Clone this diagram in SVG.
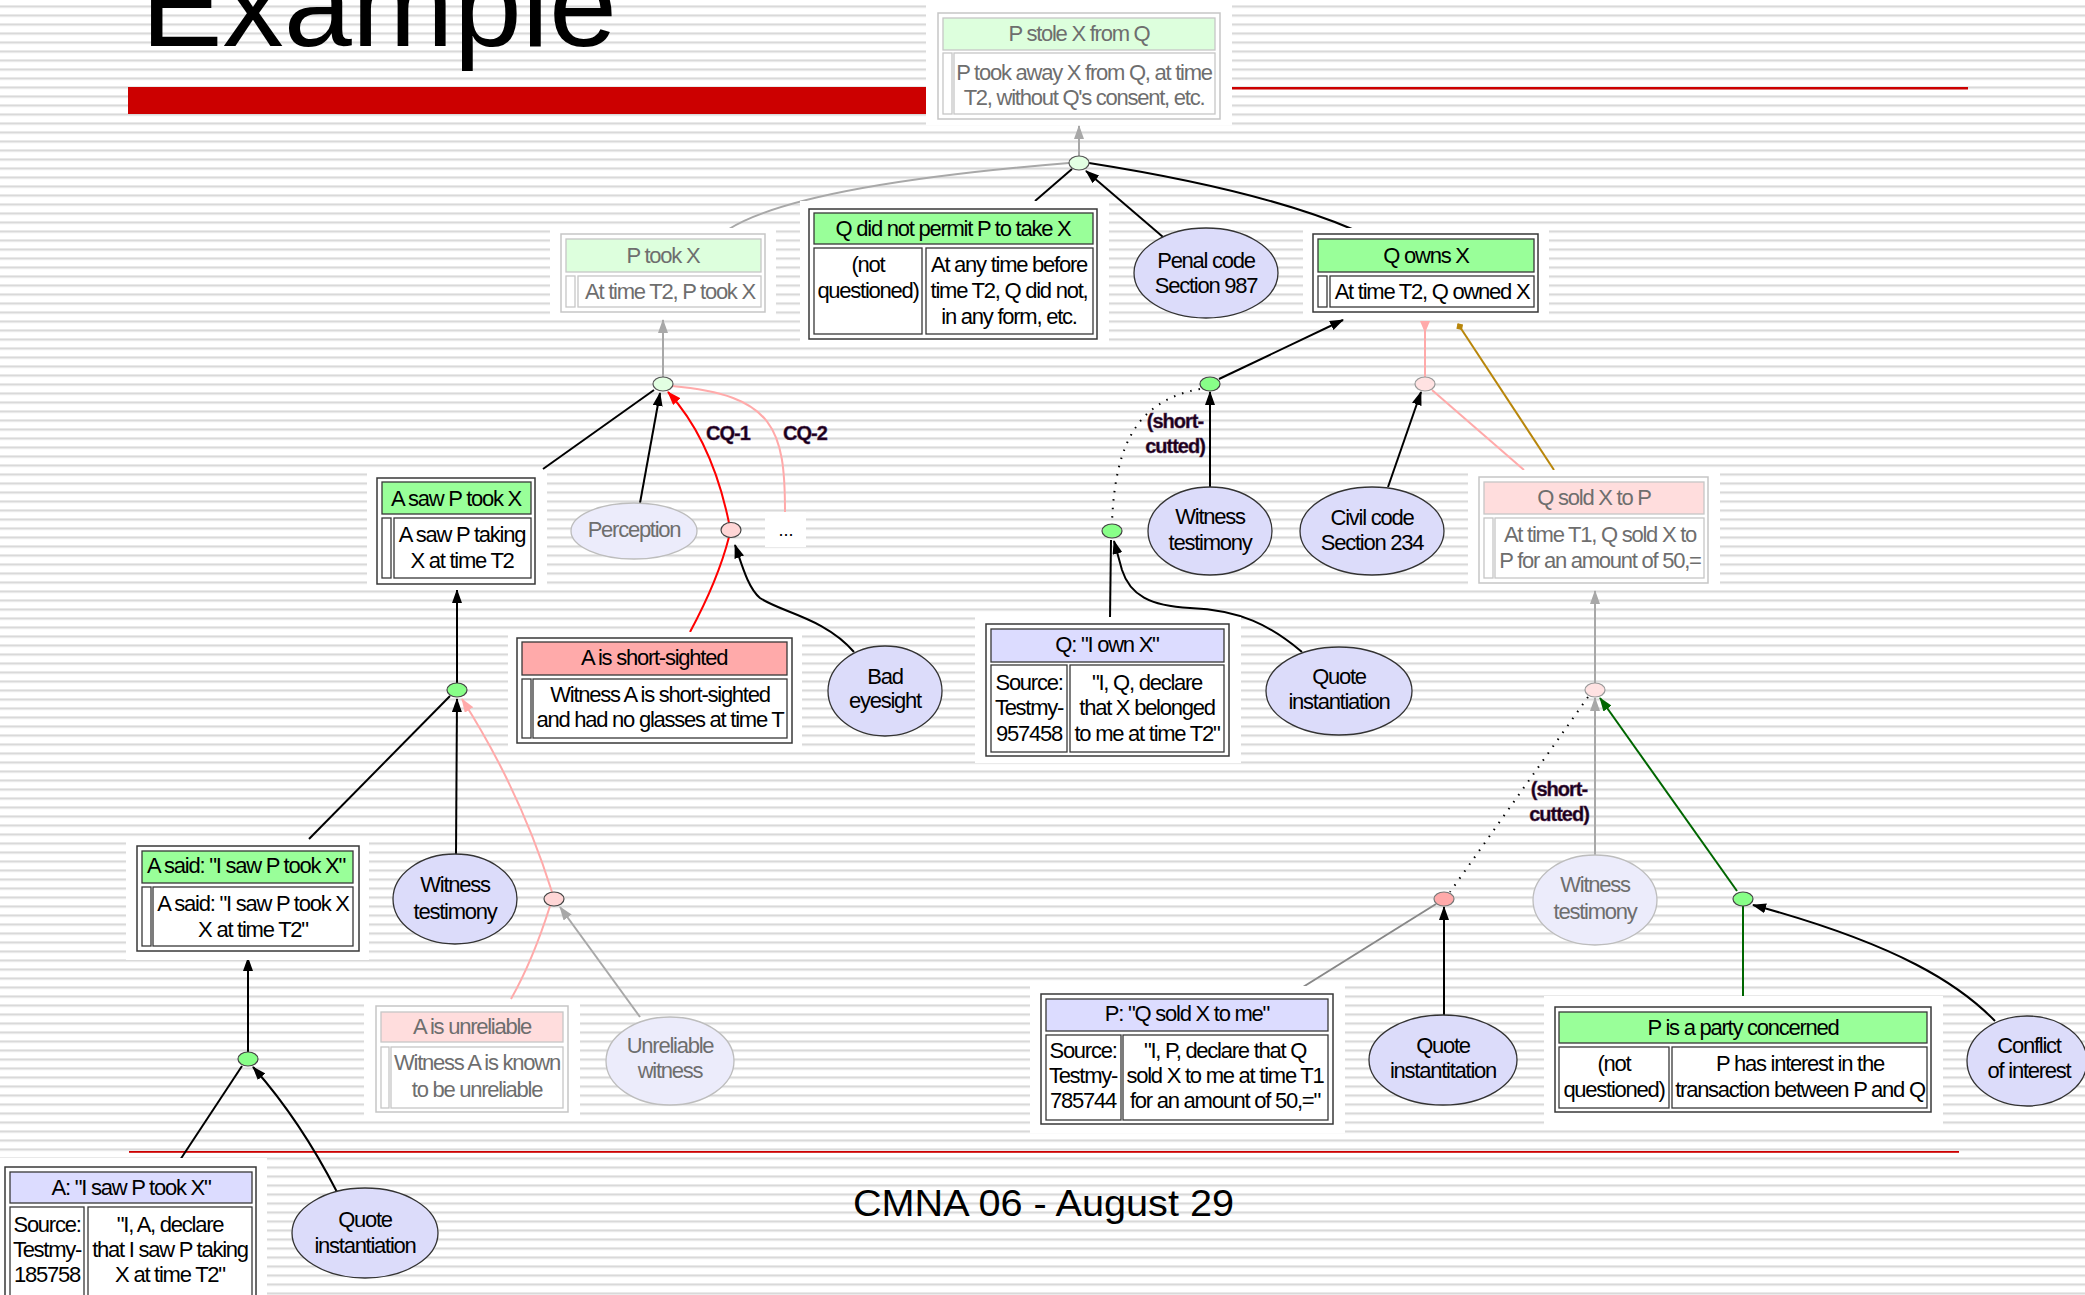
<svg xmlns="http://www.w3.org/2000/svg" width="2085" height="1295" viewBox="0 0 2085 1295">
<defs>
<pattern id="stripes" width="20" height="9" patternUnits="userSpaceOnUse" y="5">
<rect x="0" y="0" width="20" height="1" fill="#e9e9e9"/>
<rect x="0" y="1" width="20" height="1.2" fill="#d9d9d9"/>
<rect x="0" y="2.2" width="20" height="1" fill="#e7e7e7"/>
</pattern>
<marker id="ak" viewBox="0 0 14 10" refX="13" refY="5" markerWidth="14" markerHeight="10" markerUnits="userSpaceOnUse" orient="auto"><path d="M0,0 L14,5 L0,10 z" fill="#000"/></marker>
<marker id="ag" viewBox="0 0 14 10" refX="13" refY="5" markerWidth="14" markerHeight="10" markerUnits="userSpaceOnUse" orient="auto"><path d="M0,0 L14,5 L0,10 z" fill="#a8a8a8"/></marker>
<marker id="ar" viewBox="0 0 14 10" refX="13" refY="5" markerWidth="14" markerHeight="10" markerUnits="userSpaceOnUse" orient="auto"><path d="M0,0 L14,5 L0,10 z" fill="#ff0000"/></marker>
<marker id="ap" viewBox="0 0 14 10" refX="13" refY="5" markerWidth="14" markerHeight="10" markerUnits="userSpaceOnUse" orient="auto"><path d="M0,0 L14,5 L0,10 z" fill="#ffaaaa"/></marker>
<marker id="apr" viewBox="0 0 12 10" refX="12" refY="5" markerWidth="12" markerHeight="10" markerUnits="userSpaceOnUse" orient="auto"><path d="M12,0 L0,5 L12,10 z" fill="#ffaaaa"/></marker>
<marker id="adg" viewBox="0 0 14 10" refX="13" refY="5" markerWidth="14" markerHeight="10" markerUnits="userSpaceOnUse" orient="auto"><path d="M0,0 L14,5 L0,10 z" fill="#006600"/></marker>
<marker id="dm" viewBox="0 0 10 10" refX="9" refY="5" markerWidth="10" markerHeight="8" markerUnits="userSpaceOnUse" orient="auto"><path d="M0,5 L5,0 L10,5 L5,10 z" fill="#b8860b"/></marker>
<style>
.t{font-family:"Liberation Sans",Arial,sans-serif;font-size:22px;letter-spacing:-1.25px;text-anchor:middle;fill:#000}
.f{fill:#6e6e6e}
.b{font-family:"Liberation Sans",Arial,sans-serif;font-weight:bold;font-size:20px;letter-spacing:-1px;text-anchor:middle;fill:#1a001a;stroke:#5a305a;stroke-width:0.4}
.halo{fill:#fff}
.ob{fill:#fff;stroke:#383838;stroke-width:1.5}
.of{fill:#fff;stroke:#c6c6c6;stroke-width:1.5}
.hg{fill:#99ff99;stroke:#383838;stroke-width:1.3}
.hgf{fill:#ddffdd;stroke:#c6c6c6;stroke-width:1.3}
.hr{fill:#ffaaaa;stroke:#383838;stroke-width:1.3}
.hpf{fill:#ffdddd;stroke:#c6c6c6;stroke-width:1.3}
.hq{fill:#dcdcff;stroke:#383838;stroke-width:1.3}
.c{fill:#fff;stroke:#383838;stroke-width:1.3}
.cf{fill:#fff;stroke:#c6c6c6;stroke-width:1.3}
.e{fill:#dcdcfa;stroke:#333;stroke-width:1.3}
.ef{fill:#ececfb;stroke:#bdbdbd;stroke-width:1.3}
.jg{fill:#88ff88;stroke:#444;stroke-width:1.2}
.jgf{fill:#e2ffe2;stroke:#555;stroke-width:1.2}
.jp{fill:#ffd6d6;stroke:#444;stroke-width:1.2}
.jpf{fill:#ffe2e2;stroke:#999;stroke-width:1.2}
.jr{fill:#ffaaaa;stroke:#777;stroke-width:1.2}
.k{fill:none;stroke:#000;stroke-width:2}
.g{fill:none;stroke:#a8a8a8;stroke-width:2}
.gd{fill:none;stroke:#888;stroke-width:2}
.r{fill:none;stroke:#ff0000;stroke-width:2}
.p{fill:none;stroke:#ffaaaa;stroke-width:2}
.dg{fill:none;stroke:#006600;stroke-width:2}
.au{fill:none;stroke:#b8860b;stroke-width:2}
.dot{fill:none;stroke:#000;stroke-width:2;stroke-dasharray:1.5 7}
</style>
</defs>

<rect width="2085" height="1295" fill="#fff"/>
<rect width="2085" height="1295" fill="url(#stripes)"/>

<g id="slide">
<text x="141" y="46" textLength="476" lengthAdjust="spacingAndGlyphs" style="font-family:'Liberation Sans',Arial,sans-serif;font-size:120px;fill:#000">Example</text>
<rect x="128" y="87" width="798" height="27" fill="#cc0000"/>
<rect x="1232" y="87" width="736" height="2.5" fill="#cc0000"/>
<rect x="129" y="1151" width="1830" height="1.8" fill="#cc0000"/>
<text x="853" y="1216" textLength="381" lengthAdjust="spacingAndGlyphs" style="font-family:'Liberation Sans',Arial,sans-serif;font-size:36px;fill:#000">CMNA 06 - August 29</text>
</g>

<g id="connectors">
<path class="g" d="M1079,156 L1079,126" marker-end="url(#ag)"/>
<path class="g" d="M729,229 Q800,185 1069,163"/>
<path class="k" d="M1035,201 L1072,169"/>
<path class="k" d="M1163,237 L1086,171" marker-end="url(#ak)"/>
<path class="k" d="M1352,229 Q1260,190 1089,163"/>

<path class="g" d="M663,377 L663,320" marker-end="url(#ag)"/>
<path class="k" d="M543,469 L654,390"/>
<path class="k" d="M640,503 L660,393" marker-end="url(#ak)"/>
<path class="r" d="M729,523 Q712,440 668,392" marker-end="url(#ar)"/>
<path class="p" d="M785,512 C785,430 775,395 672,386"/>
<path class="r" d="M690,632 Q718,580 729,537"/>
<path class="k" d="M854,652 C825,618 780,612 760,598 C748,588 742,565 735,545" marker-end="url(#ak)"/>

<path class="k" d="M457,683 L457,590" marker-end="url(#ak)"/>
<path class="k" d="M309,839 L450,696"/>
<path class="k" d="M456,854 L457,699" marker-end="url(#ak)"/>
<path class="p" d="M552,892 Q520,790 462,699" marker-end="url(#ap)"/>
<path class="p" d="M511,999 Q533,960 550,906"/>
<path class="g" d="M640,1017 L560,907" marker-end="url(#ag)"/>

<path class="k" d="M248,1052 L248,958" marker-end="url(#ak)"/>
<path class="k" d="M180,1160 L242,1066"/>
<path class="k" d="M337,1192 Q300,1120 253,1067" marker-end="url(#ak)"/>

<path class="k" d="M1219,379 L1343,320" marker-end="url(#ak)"/>
<path class="k" d="M1210,487 L1210,392" marker-end="url(#ak)"/>
<path class="dot" d="M1200,389 C1140,400 1115,440 1112,523"/>
<path class="k" d="M1110,618 L1111,540"/>
<path class="k" d="M1302,652 C1270,625 1240,610 1190,608 C1150,606 1130,595 1122,570 L1114,541" marker-end="url(#ak)"/>

<path class="p" d="M1425,377 L1425,321" marker-end="url(#apr)"/>
<path class="p" d="M1432,390 L1524,470"/>
<path class="k" d="M1388,487 L1421,392" marker-end="url(#ak)"/>
<path class="au" d="M1554,470 L1458,324" marker-end="url(#dm)"/>

<path class="g" d="M1595,683 L1595,591" marker-end="url(#ag)"/>
<path class="g" d="M1595,855 L1595,698" marker-end="url(#ag)"/>
<path class="dg" d="M1737,891 L1600,698" marker-end="url(#adg)"/>
<path class="dot" d="M1588,697 L1450,892"/>
<path class="dg" d="M1743,1006 L1743,906"/>
<path class="k" d="M1995,1021 C1960,985 1900,945 1753,905" marker-end="url(#ak)"/>

<path class="gd" d="M1303,987 L1436,904"/>
<path class="k" d="M1444,1015 L1444,907" marker-end="url(#ak)"/>

<text class="b" x="728" y="440">CQ-1</text>
<text class="b" x="805" y="440">CQ-2</text>
<text class="b" x="1175" y="428">(short-</text>
<text class="b" x="1175" y="453">cutted)</text>
<text class="b" x="1559" y="796">(short-</text>
<text class="b" x="1559" y="821">cutted)</text>
</g>

<g id="n-pstole">
<rect class="halo" x="926" y="0" width="306" height="125"/>
<rect class="of" x="938" y="13" width="282" height="106"/>
<rect class="hgf" x="943" y="18" width="272" height="32"/>
<rect class="cf" x="943" y="53" width="9" height="61"/>
<rect class="cf" x="954" y="53" width="261" height="61"/>
<text class="t f" x="1079" y="41">P stole X from Q</text>
<text class="t f" x="1084" y="80">P took away X from Q, at time</text>
<text class="t f" x="1084" y="105">T2, without Q's consent, etc.</text>
</g>

<g id="n-ptook">
<rect class="halo" x="550" y="228" width="226" height="90"/>
<rect class="of" x="561" y="234" width="204" height="78"/>
<rect class="hgf" x="566" y="239" width="195" height="33"/>
<rect class="cf" x="566" y="276" width="9" height="31"/>
<rect class="cf" x="578" y="276" width="183" height="31"/>
<text class="t f" x="663" y="263">P took X</text>
<text class="t f" x="670" y="299">At time T2, P took X</text>
</g>

<g id="n-qdid">
<rect class="halo" x="800" y="201" width="309" height="146"/>
<rect class="ob" x="809" y="209" width="288" height="130"/>
<rect class="hg" x="814" y="213" width="279" height="31"/>
<rect class="c" x="814" y="248" width="108" height="86"/>
<rect class="c" x="926" y="248" width="167" height="86"/>
<text class="t" x="953" y="236">Q did not permit P to take X</text>
<text class="t" x="868" y="272">(not</text>
<text class="t" x="868" y="298">questioned)</text>
<text class="t" x="1009" y="272">At any time before</text>
<text class="t" x="1009" y="298">time T2, Q did not,</text>
<text class="t" x="1009" y="324">in any form,  etc.</text>
</g>

<g id="n-penal">
<ellipse class="e" cx="1206" cy="273" rx="72" ry="45"/>
<text class="t" x="1206" y="268">Penal code</text>
<text class="t" x="1206" y="293">Section 987</text>
</g>

<g id="n-qowns">
<rect class="halo" x="1303" y="228" width="246" height="89"/>
<rect class="ob" x="1313" y="234" width="225" height="78"/>
<rect class="hg" x="1318" y="239" width="216" height="33"/>
<rect class="c" x="1318" y="276" width="9" height="31"/>
<rect class="c" x="1330" y="276" width="204" height="31"/>
<text class="t" x="1426" y="263">Q owns X</text>
<text class="t" x="1432" y="299">At time T2, Q owned X</text>
</g>

<g id="n-qsold">
<rect class="halo" x="1468" y="470" width="252" height="120"/>
<rect class="of" x="1479" y="477" width="229" height="106"/>
<rect class="hpf" x="1484" y="482" width="220" height="32"/>
<rect class="cf" x="1484" y="518" width="9" height="60"/>
<rect class="cf" x="1495" y="518" width="209" height="60"/>
<text class="t f" x="1594" y="505">Q sold X to P</text>
<text class="t f" x="1600" y="542">At time T1, Q sold X to</text>
<text class="t f" x="1600" y="568">P for an amount of 50,=</text>
</g>

<g id="n-asaw">
<rect class="halo" x="367" y="472" width="180" height="118"/>
<rect class="ob" x="377" y="478" width="158" height="106"/>
<rect class="hg" x="382" y="482" width="149" height="32"/>
<rect class="c" x="382" y="518" width="9" height="60"/>
<rect class="c" x="394" y="518" width="137" height="60"/>
<text class="t" x="456" y="506">A saw P took X</text>
<text class="t" x="462" y="542">A saw P taking</text>
<text class="t" x="462" y="568">X at time T2</text>
</g>

<g id="n-perception">
<ellipse class="ef" cx="634" cy="531" rx="63" ry="28"/>
<text class="t f" x="634" y="537">Perception</text>
</g>

<g id="n-dots">
<rect class="halo" x="765" y="512" width="41" height="35"/>
<text class="t" x="786" y="536" style="font-size:18px;letter-spacing:0">...</text>
</g>

<g id="n-short">
<rect class="halo" x="508" y="632" width="294" height="116"/>
<rect class="ob" x="517" y="638" width="275" height="105"/>
<rect class="hr" x="522" y="642" width="265" height="33"/>
<rect class="c" x="522" y="679" width="9" height="59"/>
<rect class="c" x="533" y="679" width="254" height="59"/>
<text class="t" x="654" y="665">A is short-sighted</text>
<text class="t" x="660" y="702">Witness A is short-sighted</text>
<text class="t" x="660" y="727">and had no glasses at time T</text>
</g>

<g id="n-bad">
<ellipse class="e" cx="885" cy="691" rx="57" ry="45"/>
<text class="t" x="885" y="684">Bad</text>
<text class="t" x="885" y="708">eyesight</text>
</g>

<g id="n-asaid">
<rect class="halo" x="126" y="840" width="243" height="120"/>
<rect class="ob" x="137" y="846" width="222" height="105"/>
<rect class="hg" x="142" y="851" width="211" height="32"/>
<rect class="c" x="142" y="887" width="9" height="59"/>
<rect class="c" x="153" y="887" width="200" height="59"/>
<text class="t" x="246" y="873">A said: "I saw P took X"</text>
<text class="t" x="253" y="911">A said: "I saw P took X</text>
<text class="t" x="253" y="937">X at time T2"</text>
</g>

<g id="n-witness-l">
<ellipse class="e" cx="455" cy="899" rx="62" ry="45"/>
<text class="t" x="455" y="892">Witness</text>
<text class="t" x="455" y="919">testimony</text>
</g>

<g id="n-unrel">
<rect class="halo" x="364" y="1000" width="216" height="118"/>
<rect class="of" x="376" y="1006" width="192" height="106"/>
<rect class="hpf" x="381" y="1012" width="182" height="30"/>
<rect class="cf" x="381" y="1047" width="8" height="61"/>
<rect class="cf" x="391" y="1047" width="172" height="61"/>
<text class="t f" x="472" y="1034">A is unreliable</text>
<text class="t f" x="477" y="1070">Witness A is known</text>
<text class="t f" x="477" y="1097">to be unreliable</text>
</g>

<g id="n-unrelw">
<ellipse class="ef" cx="670" cy="1061" rx="64" ry="44"/>
<text class="t f" x="670" y="1053">Unreliable</text>
<text class="t f" x="670" y="1078">witness</text>
</g>

<g id="n-asays">
<rect class="halo" x="0" y="1158" width="267" height="137"/>
<rect class="ob" x="5" y="1167" width="251" height="140"/>
<rect class="hq" x="10" y="1172" width="242" height="31"/>
<rect class="c" x="10" y="1207" width="74" height="92"/>
<rect class="c" x="88" y="1207" width="164" height="92"/>
<text class="t" x="131" y="1195">A: "I saw P took X"</text>
<text class="t" x="47" y="1232">Source:</text>
<text class="t" x="47" y="1257">Testmy-</text>
<text class="t" x="47" y="1282">185758</text>
<text class="t" x="170" y="1232">"I, A, declare</text>
<text class="t" x="170" y="1257">that I saw P taking</text>
<text class="t" x="170" y="1282">X at time T2"</text>
</g>

<g id="n-quote-l">
<ellipse class="e" cx="365" cy="1233" rx="73" ry="45"/>
<text class="t" x="365" y="1227">Quote</text>
<text class="t" x="365" y="1253">instantiation</text>
</g>

<g id="n-qown">
<rect class="halo" x="975" y="617" width="266" height="146"/>
<rect class="ob" x="986" y="624" width="243" height="132"/>
<rect class="hq" x="991" y="629" width="233" height="33"/>
<rect class="c" x="991" y="665" width="76" height="87"/>
<rect class="c" x="1070" y="665" width="154" height="87"/>
<text class="t" x="1107" y="652">Q: "I own X"</text>
<text class="t" x="1029" y="690">Source:</text>
<text class="t" x="1029" y="715">Testmy-</text>
<text class="t" x="1029" y="741">957458</text>
<text class="t" x="1147" y="690">"I, Q, declare</text>
<text class="t" x="1147" y="715">that X belonged</text>
<text class="t" x="1147" y="741">to me at time T2"</text>
</g>

<g id="n-witness-m">
<ellipse class="e" cx="1210" cy="531" rx="62" ry="44"/>
<text class="t" x="1210" y="524">Witness</text>
<text class="t" x="1210" y="550">testimony</text>
</g>

<g id="n-civil">
<ellipse class="e" cx="1372" cy="531" rx="72" ry="44"/>
<text class="t" x="1372" y="525">Civil code</text>
<text class="t" x="1372" y="550">Section 234</text>
</g>

<g id="n-quote-m">
<ellipse class="e" cx="1339" cy="691" rx="73" ry="44"/>
<text class="t" x="1339" y="684">Quote</text>
<text class="t" x="1339" y="709">instantiation</text>
</g>

<g id="n-psays">
<rect class="halo" x="1030" y="986" width="315" height="147"/>
<rect class="ob" x="1041" y="994" width="292" height="130"/>
<rect class="hq" x="1046" y="999" width="282" height="32"/>
<rect class="c" x="1046" y="1035" width="75" height="85"/>
<rect class="c" x="1123" y="1035" width="205" height="85"/>
<text class="t" x="1187" y="1021">P: "Q sold X to me"</text>
<text class="t" x="1083" y="1058">Source:</text>
<text class="t" x="1083" y="1083">Testmy-</text>
<text class="t" x="1083" y="1108">785744</text>
<text class="t" x="1225" y="1058">"I, P, declare that Q</text>
<text class="t" x="1225" y="1083">sold X to me at time T1</text>
<text class="t" x="1225" y="1108">for an amount of 50,="</text>
</g>

<g id="n-quote-r">
<ellipse class="e" cx="1443" cy="1060" rx="74" ry="45"/>
<text class="t" x="1443" y="1053">Quote</text>
<text class="t" x="1443" y="1078">instantitation</text>
</g>

<g id="n-witness-r">
<ellipse class="ef" cx="1595" cy="900" rx="62" ry="45"/>
<text class="t f" x="1595" y="892">Witness</text>
<text class="t f" x="1595" y="919">testimony</text>
</g>

<g id="n-pparty">
<rect class="halo" x="1544" y="996" width="399" height="130"/>
<rect class="ob" x="1555" y="1007" width="376" height="105"/>
<rect class="hg" x="1559" y="1012" width="368" height="31"/>
<rect class="c" x="1559" y="1047" width="110" height="61"/>
<rect class="c" x="1672" y="1047" width="255" height="61"/>
<text class="t" x="1743" y="1035">P is a party concerned</text>
<text class="t" x="1614" y="1071">(not</text>
<text class="t" x="1614" y="1097">questioned)</text>
<text class="t" x="1800" y="1071">P has interest in the</text>
<text class="t" x="1800" y="1097">transaction between P and Q</text>
</g>

<g id="n-conflict">
<ellipse class="e" cx="2027" cy="1061" rx="60" ry="45"/>
<text class="t" x="2029" y="1053">Conflict</text>
<text class="t" x="2029" y="1078">of interest</text>
</g>

<g id="junctions">
<ellipse id="j1" class="jgf" cx="1079" cy="163" rx="10" ry="7"/>
<ellipse id="j2" class="jgf" cx="663" cy="384" rx="10" ry="7"/>
<ellipse id="j3" class="jp" cx="731" cy="530" rx="10" ry="7.5"/>
<ellipse id="j4" class="jg" cx="457" cy="690" rx="10" ry="7"/>
<ellipse id="j5" class="jp" cx="554" cy="899" rx="10" ry="7"/>
<ellipse id="j6" class="jg" cx="248" cy="1059" rx="10" ry="7"/>
<ellipse id="j7" class="jg" cx="1210" cy="384" rx="10" ry="7"/>
<ellipse id="j8" class="jg" cx="1112" cy="531" rx="10" ry="7"/>
<ellipse id="j9" class="jpf" cx="1425" cy="384" rx="10" ry="7"/>
<ellipse id="j10" class="jpf" cx="1595" cy="690" rx="10" ry="7"/>
<ellipse id="j11" class="jg" cx="1743" cy="899" rx="10" ry="7"/>
<ellipse id="j12" class="jr" cx="1444" cy="899" rx="10" ry="7"/>
</g>
</svg>
